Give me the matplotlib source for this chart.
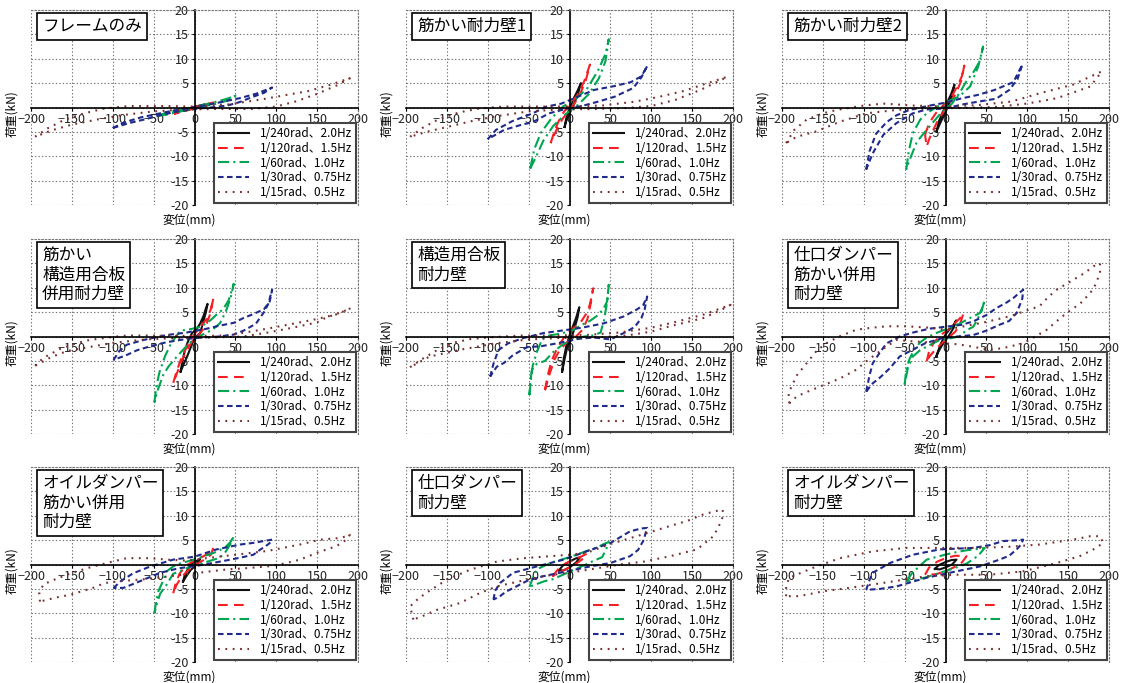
import matplotlib
matplotlib.use('Agg')
import matplotlib.pyplot as plt
from matplotlib.ticker import FuncFormatter

plt.rcParams['font.family'] = ['Liberation Sans Narrow', 'Noto Sans CJK JP', 'DejaVu Sans']
plt.rcParams['lines.scale_dashes'] = False

# 加振条件 (凡例)
amplitudes = ['1/240rad、2.0Hz', '1/120rad、1.5Hz', '1/60rad、1.0Hz',
              '1/30rad、0.75Hz', '1/15rad、0.5Hz']
colors = ['#111111', '#f52025', '#00a651', '#1f2a8c', '#7a2e2e']
styles = ['-', (0, (7, 4.5)), (0, (8, 3, 1.5, 3)), (0, (4, 2.5)), (0, (1.3, 4))]

titles = ['フレームのみ', '筋かい耐力壁1', '筋かい耐力壁2',
          '筋かい\n構造用合板\n併用耐力壁', '構造用合板\n耐力壁', '仕口ダンパー\n筋かい併用\n耐力壁',
          'オイルダンパー\n筋かい併用\n耐力壁', '仕口ダンパー\n耐力壁', 'オイルダンパー\n耐力壁']

# 各試験体の履歴ループ (変位 mm, 荷重 kN)、振幅の小さい順
frame_only = [
    [(-12, -0.6), (-6, -0.2), (0, 0.1), (6, 0.4), (12, 0.6), (6, 0.2), (0, -0.1), (-6, -0.4), (-12, -0.6)],
    [(-25, -1.3), (-15, -0.6), (-5, -0.1), (5, 0.3), (15, 0.7), (25, 1.1), (15, 0.5), (5, 0.0), (-5, -0.4),
     (-15, -0.9), (-25, -1.3)],
    [(-45, -1.7), (-35, -1.1), (-20, -0.5), (-5, 0.0), (10, 0.5), (25, 1.1), (40, 1.8), (50, 2.4), (40, 1.4),
     (25, 0.7), (10, 0.2), (-5, -0.4), (-20, -0.9), (-35, -1.5), (-45, -1.7)],
    [(-100, -4.2), (-85, -3.0), (-65, -2.0), (-45, -1.3), (-25, -0.6), (-5, 0.0), (15, 0.5), (35, 1.2), (55, 1.9),
     (75, 2.8), (95, 4.1), (85, 3.0), (70, 2.1), (55, 1.1), (40, 0.4), (20, 0.0), (0, -0.3), (-20, -0.8),
     (-40, -1.5), (-60, -2.4), (-80, -3.2), (-100, -4.2)],
    [(-195, -6.0), (-180, -4.3), (-160, -2.6), (-135, -1.2), (-110, -0.2), (-80, 0.3), (-40, 0.3), (0, 0.2),
     (40, 0.6), (80, 1.6), (110, 2.5), (140, 3.4), (165, 4.6), (190, 6.0), (175, 4.6), (150, 2.8), (125, 1.3),
     (100, 0.2), (70, -0.3), (30, -0.3), (-10, -0.4), (-50, -0.8), (-90, -1.6), (-120, -2.5), (-150, -3.5),
     (-175, -4.7), (-195, -6.0)],
]

brace_1 = [
    [(-6, -4.0), (-4, -2.2), (0, -0.2), (5, 1.8), (10, 3.5), (14, 5.0), (10, 2.6), (5, 0.5), (0, -1.2),
     (-4, -2.8), (-6, -4.0)],
    [(-23, -7.3), (-18, -4.6), (-10, -1.6), (0, 0.6), (10, 2.6), (18, 5.4), (25, 8.8), (20, 5.6), (12, 2.4),
     (3, 0.0), (-8, -2.2), (-16, -4.6), (-23, -7.3)],
    [(-48, -12.5), (-43, -8.5), (-35, -5.2), (-22, -2.2), (-8, 0.2), (8, 1.8), (22, 4.0), (35, 7.6), (44, 11.0),
     (48, 14.0), (44, 9.5), (36, 6.0), (24, 2.8), (10, 0.5), (-5, -1.4), (-20, -3.8), (-32, -6.8), (-42, -10.5),
     (-48, -12.5)],
    [(-100, -6.5), (-90, -4.6), (-70, -2.8), (-45, -1.2), (-28, 0.2), (-10, 0.8), (10, 2.2), (30, 3.6), (55, 4.4),
     (75, 5.2), (88, 6.4), (95, 8.5), (88, 6.2), (78, 4.0), (55, 2.2), (35, 1.2), (15, 0.3), (-5, -0.3),
     (-25, -1.2), (-45, -3.0), (-60, -3.6), (-80, -4.6), (-100, -6.5)],
    [(-195, -6.0), (-180, -4.2), (-160, -2.4), (-135, -1.0), (-110, -0.2), (-80, 0.2), (-40, 0.2), (0, 0.2),
     (40, 0.4), (80, 1.2), (110, 2.2), (140, 3.4), (165, 4.8), (193, 6.3), (180, 5.2), (160, 3.6), (130, 1.6),
     (100, 0.3), (70, -0.1), (30, -0.3), (-10, -0.4), (-50, -0.8), (-90, -1.8), (-120, -2.8), (-150, -4.0),
     (-175, -5.0), (-195, -6.0)],
]

brace_2 = [
    [(-11, -4.9), (-8, -2.8), (-3, -0.8), (2, 1.0), (7, 2.8), (11, 4.7), (8, 2.4), (3, 0.2), (-2, -1.6),
     (-7, -3.4), (-11, -4.9)],
    [(-25, -5.6), (-20, -3.2), (-12, -1.2), (-2, 0.6), (8, 2.4), (15, 4.5), (20, 6.4), (23, 8.6), (19, 5.4),
     (12, 2.6), (2, 0.2), (-8, -2.2), (-15, -4.6), (-20, -6.5), (-23, -8.0), (-25, -5.6)],
    [(-48, -12.7), (-45, -9.0), (-40, -5.3), (-31, -2.5), (-23, -1.2), (-10, 0.2), (5, 1.4), (17, 2.3), (30, 4.3),
     (40, 8.4), (46, 12.5), (42, 9.5), (34, 7.2), (26, 5.5), (18, 3.2), (8, 0.8), (-5, -1.0), (-15, -3.0),
     (-25, -5.0), (-35, -7.0), (-44, -10.8), (-48, -12.7)],
    [(-97, -12.7), (-93, -9.0), (-85, -5.4), (-72, -3.0), (-60, -1.6), (-44, -0.5), (-19, 0.4), (0, 1.0), (18, 1.8),
     (40, 2.6), (60, 3.6), (83, 5.2), (94, 8.8), (88, 5.8), (78, 3.6), (62, 1.8), (40, 1.2), (20, 0.6), (0, -0.2),
     (-23, -0.4), (-40, -1.2), (-60, -3.2), (-76, -5.6), (-89, -9.4), (-97, -12.7)],
    [(-195, -7.3), (-185, -4.6), (-170, -2.5), (-150, -1.2), (-133, -0.5), (-100, 0.4), (-76, 0.8), (-40, 0.4),
     (0, 0.2), (40, 0.5), (80, 1.2), (115, 2.9), (156, 4.7), (191, 7.4), (185, 6.0), (177, 4.3), (155, 3.0),
     (136, 1.9), (110, 1.1), (95, 0.7), (60, 0.1), (20, -0.1), (-20, -0.2), (-60, -0.5), (-97, -1.2),
     (-129, -2.9), (-158, -4.9), (-182, -6.0), (-195, -7.3)],
]

brace_plywood = [
    [(-17, -7.2), (-15, -5.2), (-12, -3.0), (-8, -1.0), (-3, 0.7), (3, 1.6), (7, 2.7), (11, 4.2), (14, 5.8),
     (16, 6.7), (14, 5.0), (10, 2.6), (7, 0.7), (2, 0.0), (-1, -0.7), (-5, -2.4), (-9, -4.1), (-13, -5.6),
     (-17, -7.2)],
    [(-26, -9.5), (-22, -7.2), (-16, -4.4), (-8, -1.6), (0, 0.5), (8, 2.2), (15, 3.6), (20, 5.6), (23, 7.9),
     (20, 5.0), (14, 2.2), (6, 0.5), (-3, -1.0), (-10, -3.0), (-17, -5.5), (-22, -7.8), (-26, -9.5)],
    [(-49, -13.5), (-47, -10.6), (-43, -7.4), (-36, -4.0), (-28, -1.2), (-17, 1.2), (-5, 1.5), (8, 2.0),
     (20, 3.4), (27, 4.5), (35, 5.6), (42, 7.5), (48, 10.8), (44, 7.8), (38, 5.0), (31, 2.7), (22, 1.4),
     (10, 0.4), (0, -0.4), (-10, -2.0), (-22, -4.2), (-32, -6.2), (-38, -7.8), (-45, -11.0), (-49, -13.5)],
    [(-99, -4.8), (-92, -3.0), (-83, -1.7), (-62, -0.7), (-34, 0.3), (-10, 0.8), (15, 1.6), (30, 2.2), (48, 2.8),
     (60, 3.8), (72, 4.6), (85, 5.6), (92, 7.2), (95, 9.6), (90, 6.6), (85, 5.0), (75, 2.6), (60, 1.2),
     (48, 0.4), (30, 0.0), (10, -0.2), (-10, -0.5), (-35, -1.2), (-54, -2.0), (-70, -2.8), (-83, -3.8),
     (-99, -4.8)],
    [(-195, -6.0), (-185, -4.4), (-165, -2.6), (-145, -1.4), (-128, -0.7), (-100, -0.1), (-83, 0.2), (-40, 0.2),
     (0, 0.1), (40, 0.2), (89, 1.6), (120, 2.6), (150, 3.6), (175, 4.6), (191, 5.8), (180, 5.0), (160, 3.8),
     (150, 2.9), (120, 1.8), (89, 0.8), (60, 0.0), (20, -0.2), (-20, -0.3), (-60, -0.6), (-100, -1.3),
     (-130, -2.2), (-156, -3.0), (-175, -4.2), (-195, -6.0)],
]

plywood = [
    [(-9, -7.2), (-7, -4.5), (-4, -2.0), (0, 0.2), (4, 2.0), (8, 3.8), (12, 6.0), (10, 4.0), (6, 1.6), (2, -0.4),
     (-3, -2.4), (-6, -4.6), (-9, -7.2)],
    [(-30, -11.0), (-27, -8.2), (-22, -5.0), (-15, -2.4), (-6, 0.0), (4, 1.6), (14, 3.0), (21, 4.8), (25, 6.6),
     (29, 9.9), (26, 6.8), (22, 3.6), (16, 1.4), (8, 0.0), (-2, -1.0), (-12, -2.8), (-18, -4.6), (-24, -7.5),
     (-30, -11.0)],
    [(-49, -12.0), (-47, -8.6), (-45, -6.0), (-40, -3.2), (-33, -0.4), (-25, 0.2), (-10, 0.6), (5, 1.4),
     (15, 2.4), (25, 3.2), (35, 4.4), (42, 5.8), (46, 7.2), (48, 10.6), (46, 7.0), (42, 3.2), (38, 0.8),
     (28, 0.2), (18, 0.0), (5, -0.6), (-8, -1.6), (-20, -3.2), (-30, -5.0), (-40, -5.6), (-46, -6.8),
     (-48, -9.6), (-49, -12.0)],
    [(-97, -8.2), (-93, -5.6), (-87, -2.8), (-75, -1.4), (-56, -0.3), (-32, 0.7), (-10, 1.2), (15, 1.8),
     (42, 2.7), (66, 4.1), (82, 5.5), (90, 6.4), (95, 8.2), (92, 5.6), (88, 3.8), (80, 2.0), (70, 1.0),
     (50, -0.6), (30, -0.2), (10, -0.5), (-15, -1.4), (-35, -2.0), (-52, -2.2), (-69, -3.8), (-80, -5.4),
     (-89, -6.2), (-97, -8.2)],
    [(-195, -6.3), (-180, -4.6), (-160, -2.6), (-140, -1.2), (-120, -0.5), (-100, -0.2), (-60, 0.2), (-20, 0.2),
     (20, 0.3), (60, 0.8), (100, 1.8), (130, 3.0), (164, 4.5), (197, 6.5), (185, 5.4), (164, 3.8), (140, 2.8),
     (123, 2.1), (100, 1.0), (70, 0.2), (30, -0.2), (-10, -0.3), (-50, -0.6), (-90, -1.4), (-130, -2.6),
     (-171, -4.1), (-195, -6.3)],
]

joint_brace = [
    [(-11, -4.0), (-8, -2.5), (-4, -0.9), (0, 0.4), (5, 1.5), (10, 2.4), (13, 3.3), (10, 1.8), (5, 0.4),
     (0, -0.8), (-5, -2.0), (-9, -3.2), (-11, -4.0)],
    [(-23, -5.1), (-20, -3.0), (-14, -1.2), (-5, 0.4), (5, 1.6), (12, 2.8), (18, 3.8), (22, 4.8), (18, 2.6),
     (12, 1.0), (4, -0.2), (-6, -1.6), (-14, -3.0), (-20, -4.2), (-23, -5.1)],
    [(-50, -9.9), (-48, -6.8), (-44, -4.6), (-38, -2.6), (-31, -1.2), (-23, -0.2), (-10, 0.8), (5, 1.8),
     (17, 2.6), (30, 3.8), (42, 4.8), (46, 6.2), (48, 7.5), (44, 5.2), (38, 3.2), (34, 2.0), (25, 1.2),
     (17, 0.0), (5, -0.4), (-8, -0.8), (-20, -1.8), (-31, -2.8), (-40, -4.1), (-46, -6.4), (-50, -9.9)],
    [(-97, -11.3), (-93, -8.0), (-89, -5.5), (-80, -3.2), (-72, -1.4), (-56, 0.0), (-40, 0.8), (-20, 1.6),
     (0, 2.0), (20, 2.4), (34, 3.1), (50, 4.4), (62, 5.8), (75, 7.0), (83, 7.9), (95, 9.6), (94, 7.8),
     (87, 4.8), (78, 3.2), (66, 2.4), (50, 1.2), (34, 0.3), (15, 0.0), (-5, -0.4), (-25, -1.4), (-40, -2.7),
     (-56, -4.1), (-68, -6.5), (-80, -8.4), (-89, -9.6), (-97, -11.3)],
    [(-191, -13.7), (-192, -11.6), (-182, -8.0), (-170, -5.5), (-158, -3.0), (-146, -1.4), (-130, 0.0),
     (-109, 1.4), (-90, 1.8), (-72, 2.1), (-48, 2.1), (-20, 1.8), (0, 1.4), (20, 2.0), (50, 3.0), (80, 4.2),
     (100, 5.4), (115, 6.2), (125, 8.0), (136, 9.6), (156, 11.6), (170, 13.0), (181, 14.4), (189, 15.0),
     (189, 13.0), (183, 10.5), (177, 8.9), (165, 6.8), (148, 4.8), (135, 3.0), (124, 1.4), (110, 0.0),
     (95, -1.4), (75, -2.2), (58, -2.7), (45, -2.5), (34, -2.1), (15, -1.6), (0, -1.4), (-20, -1.2),
     (-40, -1.0), (-60, -0.7), (-75, -2.4), (-89, -4.1), (-100, -5.5), (-109, -6.8), (-129, -8.6),
     (-154, -10.3), (-170, -11.4), (-182, -12.3), (-191, -13.7)],
]

oil_brace = [
    [(-14, -3.5), (-12, -2.2), (-8, -0.9), (-3, 0.2), (2, 0.7), (7, 1.1), (4, 0.4), (0, -0.4), (-5, -1.2),
     (-10, -2.4), (-14, -3.5)],
    [(-26, -5.9), (-23, -3.8), (-18, -1.8), (-10, -0.2), (0, 0.8), (10, 1.6), (18, 2.4), (23, 3.4), (20, 2.0),
     (12, 1.0), (2, 0.0), (-8, -1.2), (-16, -2.6), (-22, -4.2), (-26, -5.9)],
    [(-49, -10.0), (-47, -7.6), (-44, -5.4), (-38, -3.2), (-34, -1.4), (-26, -0.4), (-18, 0.2), (-5, 0.8),
     (10, 1.6), (27, 2.6), (38, 3.6), (44, 4.6), (48, 5.8), (44, 4.2), (38, 2.6), (31, 1.4), (20, 0.8),
     (8, 0.2), (-5, -0.4), (-15, -1.2), (-26, -1.9), (-34, -4.1), (-42, -6.0), (-46, -8.0), (-49, -10.0)],
    [(-99, -4.8), (-90, -3.4), (-75, -1.8), (-54, -0.4), (-26, 1.0), (0, 1.6), (27, 3.1), (56, 4.1), (75, 4.5),
     (84, 4.8), (95, 5.1), (92, 4.4), (89, 4.0), (80, 3.0), (72, 2.0), (56, 1.4), (44, 1.0), (25, 0.4),
     (5, -0.2), (-20, -0.8), (-42, -1.7), (-62, -3.1), (-75, -4.0), (-87, -4.8), (-99, -4.8)],
    [(-189, -7.6), (-190, -6.0), (-185, -4.1), (-170, -3.0), (-156, -2.1), (-140, -1.2), (-124, -0.4),
     (-100, 0.6), (-83, 1.3), (-54, 1.3), (-34, 1.0), (-10, 0.8), (20, 1.4), (50, 2.0), (90, 2.8), (129, 4.1),
     (154, 5.1), (175, 5.4), (187, 5.8), (190, 6.1), (185, 5.0), (174, 3.8), (150, 2.4), (129, 1.0),
     (110, 0.2), (89, -0.4), (60, -0.8), (40, -1.0), (20, -1.4), (0, -1.8), (-30, -2.4), (-60, -3.0),
     (-90, -3.4), (-110, -3.8), (-124, -4.8), (-152, -6.2), (-170, -6.8), (-189, -7.6)],
]

joint = [
    [(-13, -1.2), (-8, -0.2), (0, 0.6), (7, 1.2), (13, 1.5), (8, 0.4), (0, -0.6), (-7, -1.2), (-13, -1.2)],
    [(-21, -2.4), (-14, -1.0), (-5, 0.2), (5, 1.0), (14, 1.6), (21, 2.2), (15, 1.0), (5, -0.2), (-5, -1.0),
     (-14, -1.8), (-21, -2.4)],
    [(-49, -4.6), (-44, -2.4), (-40, -1.0), (-30, -0.2), (-20, 0.5), (0, 1.5), (20, 2.7), (35, 3.6), (42, 4.2),
     (48, 4.6), (45, 3.2), (40, 1.5), (30, 0.8), (20, 0.0), (0, -1.5), (-20, -3.0), (-30, -3.4), (-40, -4.0),
     (-49, -4.6)],
    [(-93, -7.2), (-91, -5.4), (-85, -3.8), (-69, -1.7), (-40, -0.4), (-7, 1.0), (21, 2.7), (50, 4.4),
     (74, 6.8), (88, 7.4), (95, 7.5), (93, 6.4), (91, 5.1), (84, 3.0), (74, 1.7), (62, 1.0), (50, 0.3),
     (25, -0.4), (-3, -1.4), (-32, -2.4), (-50, -3.2), (-65, -4.5), (-78, -5.6), (-85, -6.5), (-93, -7.2)],
    [(-191, -11.3), (-195, -8.6), (-185, -7.0), (-175, -5.8), (-150, -3.1), (-122, -1.1), (-89, 0.6),
     (-56, 1.3), (-24, 1.7), (0, 2.0), (21, 2.4), (50, 4.2), (82, 5.8), (123, 7.9), (145, 9.0), (164, 10.3),
     (187, 11.3), (188, 10.6), (187, 9.6), (182, 7.6), (176, 5.8), (156, 3.1), (123, 1.7), (91, 0.6),
     (62, 0.0), (40, -0.6), (10, -1.4), (-32, -2.4), (-60, -3.4), (-89, -4.5), (-109, -5.8), (-134, -7.9),
     (-162, -9.3), (-180, -10.6), (-191, -11.3)],
]

oil = [
    [(-13, -0.9), (-8, -0.1), (0, 0.5), (7, 0.9), (13.5, 1.0), (8, 0.0), (0, -0.6), (-7, -1.0), (-13, -0.9)],
    [(-25, -2.1), (-20, -0.6), (-10, 0.6), (0, 1.3), (12, 1.8), (25.7, 1.7), (20, 0.4), (10, -0.6), (0, -1.4),
     (-12, -2.0), (-25, -2.1)],
    [(-48, -3.4), (-40, -1.6), (-23, 1.0), (-10, 1.6), (9, 2.4), (25, 2.9), (40, 3.2), (48, 3.4), (40, 1.8),
     (26, 0.2), (10, -0.8), (-5, -1.6), (-23, -2.6), (-38, -3.2), (-48, -3.4)],
    [(-97, -5.2), (-93, -3.2), (-89, -1.7), (-68, 0.3), (-40, 2.0), (-7, 3.1), (34, 3.4), (55, 4.0), (70, 4.8),
     (90, 5.0), (95, 5.1), (92, 4.0), (87, 3.1), (78, 1.8), (66, 1.0), (42, -0.4), (13.5, -1.4), (-23, -2.7),
     (-60, -4.5), (-80, -5.0), (-97, -5.2)],
    [(-195, -6.5), (-195, -4.4), (-191, -2.7), (-158, -0.4), (-129, 1.3), (-89, 2.7), (-48, 3.4), (-7, 3.4),
     (34, 3.4), (75, 3.6), (115, 4.1), (156, 5.1), (177, 5.8), (189, 5.8), (193, 4.4), (180, 3.0), (164, 1.7),
     (136, 0.3), (95, -1.4), (54, -2.1), (13.5, -2.1), (-23, -2.4), (-77, -3.8), (-118, -4.8), (-150, -5.5),
     (-179, -6.5), (-195, -6.5)],
]

panels = [frame_only, brace_1, brace_2, brace_plywood, plywood, joint_brace,
          oil_brace, joint, oil]

fig = plt.figure(figsize=(11.22, 6.83), dpi=100)
col_left = [31, 406, 782]
row_top = [10, 239, 467]
w_px, h_px = 327, 195

zero_hidden = FuncFormatter(lambda v, pos: '' if v == 0 else f'{v:g}')

for i, (title, loops) in enumerate(zip(titles, panels)):
    r, c = divmod(i, 3)
    ax = fig.add_axes([col_left[c] / 1122, 1 - (row_top[r] + h_px) / 683, w_px / 1122, h_px / 683])

    for loop, label, col, ls in zip(loops, amplitudes, colors, styles):
        xs = [p[0] for p in loop]
        ys = [p[1] for p in loop]
        ax.plot(xs, ys, color=col, linestyle=ls, lw=1.5, label=label)

    ax.set_xlim(-200, 200)
    ax.set_ylim(-20, 20)
    ax.set_xticks(range(-200, 201, 50))
    ax.set_yticks(range(-20, 21, 5))
    ax.yaxis.set_major_formatter(zero_hidden)
    ax.grid(True, linestyle=(0, (1, 1.5)), color='#777777', lw=0.8)

    # 原点を通る軸線、外枠は点線
    ax.spines['left'].set_position(('data', 0))
    ax.spines['bottom'].set_position(('data', 0))
    ax.spines['left'].set_linewidth(1.2)
    ax.spines['bottom'].set_linewidth(1.2)
    for side in ['top', 'right']:
        ax.spines[side].set_linestyle((0, (1, 1.5)))
        ax.spines[side].set_color('#777777')
        ax.spines[side].set_linewidth(0.8)
    ax.tick_params(length=2, width=0.8, labelsize=9, labelcolor='#222222', pad=2)

    ax.text(0.034, 0.96, title, transform=ax.transAxes, ha='left', va='top',
            fontsize=12, family='Noto Sans CJK JP', linespacing=1.2, zorder=6,
            bbox=dict(boxstyle='square,pad=0.3', fc='white', ec='black', lw=1.2))

    leg = ax.legend(loc='lower right', fontsize=8.5, handlelength=2.6, labelspacing=0.15,
                    borderaxespad=0.15, fancybox=False, framealpha=1, handletextpad=0.9,
                    borderpad=0.35)
    leg.get_frame().set_edgecolor('#444444')
    leg.get_frame().set_linewidth(1.5)

    ax.text(-0.058, 0.47, '荷重(kN)', transform=ax.transAxes, rotation=90,
            ha='center', va='center', fontsize=8.5, family='Noto Sans CJK JP')
    ax.text(0.485, -0.077, '変位(mm)', transform=ax.transAxes,
            ha='center', va='center', fontsize=8.5, family='Noto Sans CJK JP')

fig.savefig('out.png', dpi=100)
